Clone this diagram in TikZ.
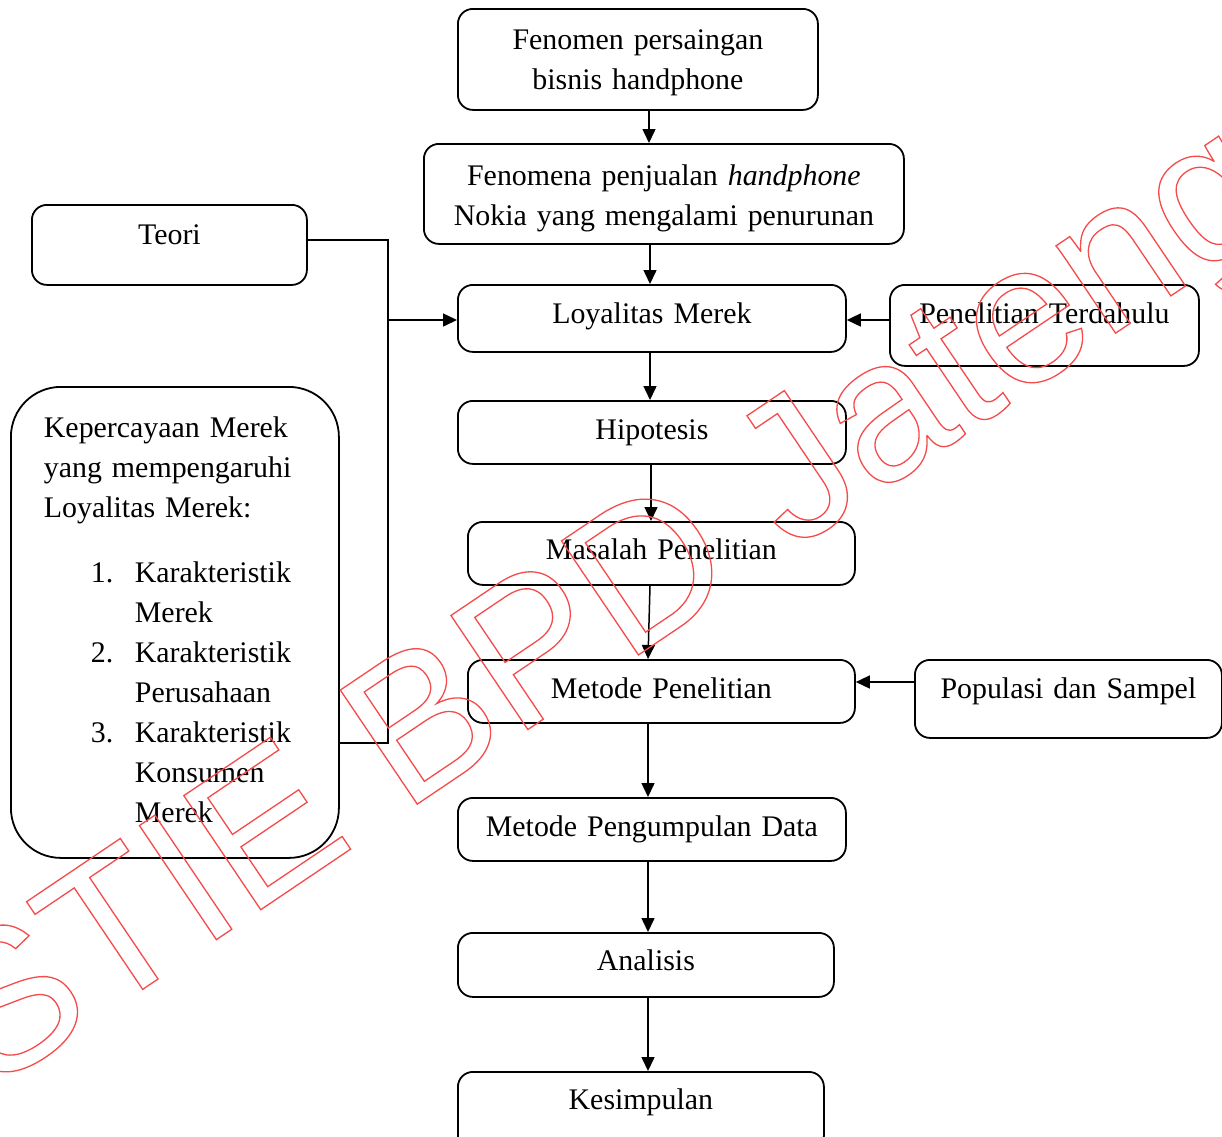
\documentclass[tikz,border=0pt]{standalone}
\usepackage{fontspec}
\setmainfont{Liberation Serif}
\newfontfamily\wmfont{Liberation Sans}
\usetikzlibrary{arrows.meta}
\definecolor{wmred}{RGB}{245,75,75}
\newcommand{\outlinetext}[1]{\special{pdf:code q 1 Tr 1.3 w}#1\special{pdf:code Q}}
\begin{document}
\begin{tikzpicture}[x=1pt,y=-1pt,
  every node/.style={font=\fontsize{29.9}{40}\selectfont},
  box/.style={draw, line width=1.8pt, rounded corners=15pt, inner sep=0pt, align=center, anchor=north west},
  conn/.style={line width=1.5pt, -{Triangle[length=14pt,width=13pt]}},
  lineonly/.style={line width=1.5pt},
  wm/.style={anchor=base west, rotate=34, inner sep=0pt, text=wmred, font=\wmfont\fontsize{200}{200}\selectfont}]
\useasboundingbox (0,0) rectangle (1222,1136);
\clip (0,0) rectangle (1222,1136);
\fill[white] (0,0) rectangle (1222,1136);

% boxes
\node[box, text width=360pt, text height=41pt, text depth=60pt] (fen) at (457,8) {Fenomen persaingan\\bisnis handphone};
\node[box, text width=480pt, text height=42pt, text depth=58pt] (fena) at (423,143) {Fenomena penjualan \textit{handphone}\\Nokia yang mengalami penurunan};
\node[box, text width=275pt, text height=40pt, text depth=40pt] (teori) at (31,204) {Teori};
\node[box, text width=388pt, text height=39pt, text depth=28pt] (loy) at (457,284) {Loyalitas Merek};
\node[box, text width=309pt, text height=39pt, text depth=42pt] (pen) at (889,284) {Penelitian Terdahulu};
\node[box, text width=388pt, text height=39pt, text depth=24pt] (hip) at (457,400) {Hipotesis};
\node[box, text width=387pt, text height=38pt, text depth=25pt] (mas) at (467,521) {Masalah Penelitian};
\node[box, text width=387pt, text height=39pt, text depth=24pt] (met) at (467,659) {Metode Penelitian};
\node[box, text width=307pt, text height=39pt, text depth=39pt] (pop) at (914,659) {Populasi dan Sampel};
\node[box, text width=388pt, text height=39pt, text depth=24pt] (mpd) at (457,797) {Metode Pengumpulan Data};
\node[box, text width=376pt, text height=38pt, text depth=26pt] (ana) at (457,932) {Analisis};
\node[box, text width=366pt, text height=38pt, text depth=41pt] (kes) at (457,1071) {Kesimpulan};
\node[box, rounded corners=50pt, align=left, inner xsep=33pt, inner ysep=0pt, text width=262pt, text height=51pt, text depth=420pt] (kep) at (10,386)
  {Kepercayaan Merek\\
   yang mempengaruhi\\
   Loyalitas Merek:\\[25pt]
   \hspace*{47pt}\makebox[44pt][l]{1.}Karakteristik\\
   \hspace*{91pt}Merek\\
   \hspace*{47pt}\makebox[44pt][l]{2.}Karakteristik\\
   \hspace*{91pt}Perusahaan\\
   \hspace*{47pt}\makebox[44pt][l]{3.}Karakteristik\\
   \hspace*{91pt}Konsumen\\
   \hspace*{91pt}Merek};

% helper coordinates
\coordinate (x648) at (648,0);
\coordinate (x649) at (649,0);
\coordinate (x650) at (650,0);
\coordinate (x651) at (651,0);
\coordinate (y320) at (0,320);
\coordinate (y682) at (0,682);
\coordinate (bt) at (388,240);
\coordinate (bm) at (388,320);
\coordinate (bb) at (388,743);

% connectors
\draw[conn] (fen.south -| x649) -- (fena.north -| x649);
\draw[conn] (fena.south -| x650) -- (loy.north -| x650);
\draw[conn] (loy.south -| x650) -- (hip.north -| x650);
\draw[conn] (hip.south -| x651) -- (mas.north -| x651);
\draw[conn] (mas.south -| x650) -- (met.north -| x648);
\draw[conn] (met.south -| x648) -- (mpd.north -| x648);
\draw[conn] (mpd.south -| x648) -- (ana.north -| x648);
\draw[conn] (ana.south -| x648) -- (kes.north -| x648);
\draw[conn] (pen.west |- y320) -- (loy.east |- y320);
\draw[conn] (pop.west |- y682) -- (met.east |- y682);
\draw[lineonly] (teori.east |- bt) -- (bt) -- (bb) -- (kep.east |- bb);
\draw[conn] (bm) -- (loy.west |- bm);

% watermark
\node[wm] (wmark) at (-11,1093) {\outlinetext{STIE BPD Jateng}};
\end{tikzpicture}
\end{document}
